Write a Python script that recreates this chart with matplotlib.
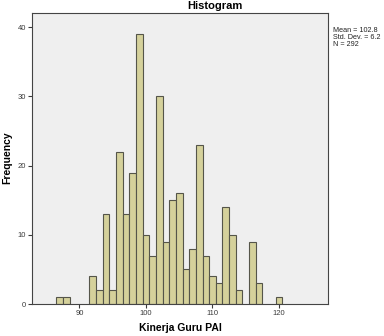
import numpy as np
import matplotlib
matplotlib.use("Agg")
import matplotlib.pyplot as plt

plt.rcParams['font.family'] = ['Liberation Sans', 'DejaVu Sans']

# histogram bins (centre value) and counts
values = [87, 88, 92, 93, 94, 95, 96, 97, 98, 99, 100, 101, 102, 103, 104,
          105, 106, 107, 108, 109, 110, 111, 112, 113, 114, 116, 117, 120]
counts = [1, 1, 4, 2, 13, 2, 22, 13, 19, 39, 10, 7, 30, 9, 15,
          16, 5, 8, 23, 7, 4, 3, 14, 10, 2, 9, 3, 1]
xticks = [90, 100, 110, 120]
yticks = [0, 10, 20, 30, 40]
stats = ["Mean = 102.8", "Std. Dev. = 6.2", "N = 292"]

fig = plt.figure(figsize=(3.84, 3.36), dpi=100)
ax = fig.add_axes([0.084, 0.095, 0.769, 0.867])
ax.set_facecolor("#efefef")

ax.bar(values, counts, width=1.0, color="#d5d19b", edgecolor="#55554a", linewidth=0.8)

ax.set_xlim(82.9, 127.3)
ax.set_ylim(0, 42.1)
ax.set_xticks(xticks)
ax.set_yticks(yticks)
ax.tick_params(axis="both", labelsize=5.5, colors="#3a3a3a", length=3, width=0.8, pad=1.5)
for s in ax.spines.values():
    s.set_color("#444444")
    s.set_linewidth(0.8)

# labels placed in figure pixels to mirror the reference layout
fig.text(180 / 384, 1 - 328 / 336, "Kinerja Guru PAI", ha="center", va="center",
         fontsize=7.5, fontweight="bold")
fig.text(7.5 / 384, 1 - 158 / 336, "Frequency", ha="center", va="center",
         rotation=90, fontsize=7.5, fontweight="bold")
fig.text(215 / 384, 1 - 9 / 336, "Histogram", ha="center", va="baseline",
         fontsize=8, fontweight="bold")
fig.text(333 / 384, 1 - 27 / 336, "\n".join(stats), ha="left", va="top",
         fontsize=5.2, linespacing=0.95, color="#222222")

fig.savefig("out.png", dpi=100)
